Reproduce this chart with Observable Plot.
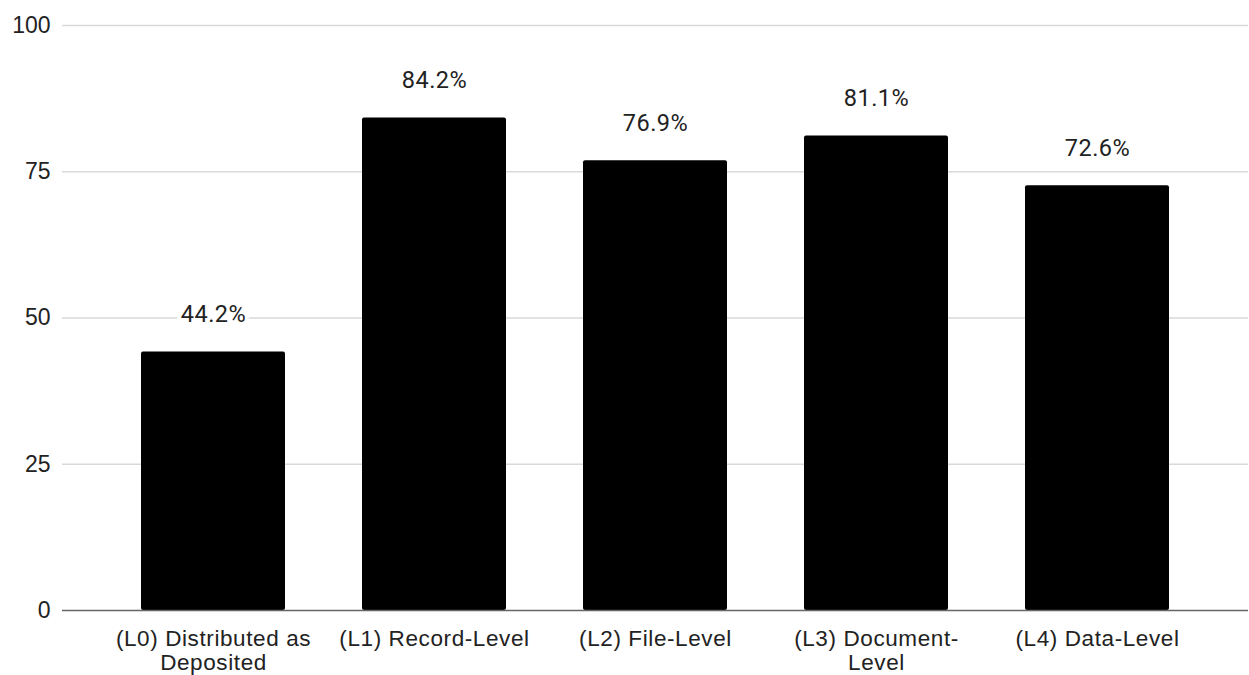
<!DOCTYPE html>
<html>
<head>
<meta charset="utf-8">
<script src="https://cdn.jsdelivr.net/npm/d3@7"></script>
<script src="https://cdn.jsdelivr.net/npm/@observablehq/plot@0.6"></script>
<style>
  html, body { margin: 0; padding: 0; background: #fff; }
  #chart svg { display: block; }
</style>
</head>
<body>
<div id="chart"></div>
<script>
// Share of items reaching each access level (percent)
const categories = [
  "(L0) Distributed as Deposited",
  "(L1) Record-Level",
  "(L2) File-Level",
  "(L3) Document-Level",
  "(L4) Data-Level"
];
const values = [44.2, 84.2, 76.9, 81.1, 72.6];
const tickLabels = [
  "(L0) Distributed as\nDeposited",
  "(L1) Record-Level",
  "(L2) File-Level",
  "(L3) Document-\nLevel",
  "(L4) Data-Level"
];
const yTicks = [0, 25, 50, 75, 100];

const data = categories.map((c, i) => ({ category: c, value: values[i] }));
const labelOf = new Map(categories.map((c, i) => [c, tickLabels[i]]));

const chart = Plot.plot({
  width: 1249,
  height: 675,
  marginTop: 25,
  marginBottom: 65,
  marginLeft: 62,
  marginRight: 1,
  style: { fontFamily: "'Liberation Sans', Arial, sans-serif", color: "#222", background: "#fff" },
  x: { domain: categories, padding: 0.35, label: null },
  y: { domain: [0, 100], label: null },
  marks: [
    Plot.ruleY(yTicks.filter(d => d > 0), { stroke: "#d9d9d9", strokeWidth: 1.5 }),
    Plot.barY(data, { x: "category", y: "value", fill: "#000", rx: 2 }),
    Plot.ruleY([0], { stroke: "#666", strokeWidth: 1.5 }),
    Plot.text(data, {
      x: "category",
      y: "value",
      text: d => d.value.toFixed(1) + "%",
      lineAnchor: "bottom",
      dy: -30,
      fontSize: 23.5,
      fontFamily: "Roboto, 'Noto Sans', sans-serif",
      fill: "#222",
      stroke: "white",
      strokeWidth: 8
    }),
    Plot.axisY({
      ticks: yTicks,
      tickSize: 0,
      tickPadding: 12,
      fontSize: 23,
      label: null
    }),
    Plot.axisX({
      tickSize: 0,
      tickPadding: 18,
      fontSize: 22.5,
      lineHeight: 1.07,
      tickFormat: d => labelOf.get(d),
      label: null
    })
  ]
});

chart.querySelectorAll('[aria-label="x-axis tick label"] text').forEach(t => t.style.letterSpacing = "0.6px");
chart.querySelectorAll('[aria-label="text"] text').forEach(t => t.style.letterSpacing = "0.5px");
document.getElementById("chart").appendChild(chart);
</script>
</body>
</html>
